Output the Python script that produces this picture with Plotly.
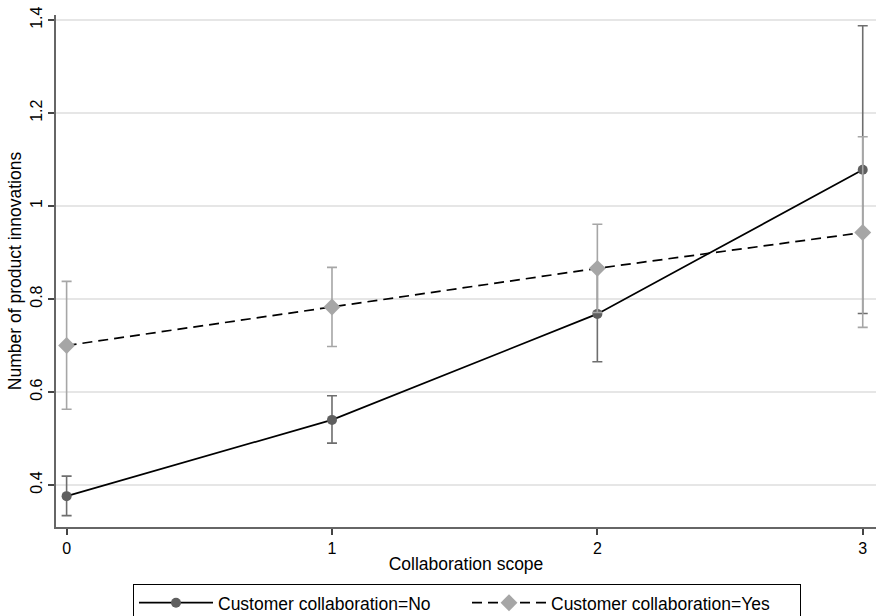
import plotly.graph_objects as go

scope = [0, 1, 2, 3]
no_mean = [0.376, 0.540, 0.768, 1.078]
no_lo = [0.334, 0.490, 0.665, 0.769]
no_hi = [0.419, 0.592, 0.871, 1.388]
yes_mean = [0.700, 0.783, 0.866, 0.943]
yes_lo = [0.563, 0.698, 0.771, 0.739]
yes_hi = [0.838, 0.868, 0.961, 1.149]
y_ticks = [0.4, 0.6, 0.8, 1.0, 1.2, 1.4]
y_tick_labels = ["0.4", "0.6", "0.8", "1", "1.2", "1.4"]
x_ticks = [0, 1, 2, 3]

FONT = "Liberation Sans, Arial, sans-serif"

fig = go.Figure()
fig.add_trace(go.Scatter(
    x=scope, y=no_mean, mode="lines+markers",
    name="Customer collaboration=No", cliponaxis=False,
    line=dict(color="black", width=1.7, dash="solid"),
    marker=dict(symbol="circle", size=10, color="#5f5f5f"),
    error_y=dict(type="data", symmetric=False,
                 array=[h - m for h, m in zip(no_hi, no_mean)],
                 arrayminus=[m - l for l, m in zip(no_lo, no_mean)],
                 color="#6e6e6e", thickness=1.6, width=5),
))
fig.add_trace(go.Scatter(
    x=scope, y=yes_mean, mode="lines+markers",
    name="Customer collaboration=Yes", cliponaxis=False,
    line=dict(color="black", width=1.7, dash="10px,6px"),
    marker=dict(symbol="diamond", size=13, color="#a6a6a6"),
    error_y=dict(type="data", symmetric=False,
                 array=[h - m for h, m in zip(yes_hi, yes_mean)],
                 arrayminus=[m - l for l, m in zip(yes_lo, yes_mean)],
                 color="#a6a6a6", thickness=1.6, width=5),
))

fig.update_layout(
    width=877, height=616,
    margin=dict(l=56, r=1, t=15, b=89, autoexpand=False),
    paper_bgcolor="white", plot_bgcolor="white",
    font=dict(family=FONT, size=16, color="black"),
    showlegend=True,
    legend=dict(orientation="h", x=0.0939, xanchor="left", y=-0.111, yanchor="top",
                bordercolor="black", borderwidth=1, bgcolor="white",
                font=dict(size=17.5), itemwidth=74,
                entrywidth=244, entrywidthmode="pixels",
                traceorder="normal"),
)
fig.update_xaxes(
    range=[-0.04, 3.05], tickvals=x_ticks, ticktext=[str(v) for v in x_ticks],
    showgrid=False, zeroline=False, showline=True, linecolor="#666666", linewidth=2,
    ticks="outside", ticklen=6, tickcolor="#444444", tickwidth=1.5,
    title=dict(text="Collaboration scope", standoff=2, font=dict(size=17.5)),
)
fig.update_yaxes(
    range=[0.3096, 1.411], tickvals=y_ticks, ticktext=y_tick_labels, tickangle=-90,
    showgrid=True, gridcolor="#e6e6e6", gridwidth=1.5, zeroline=False,
    showline=True, linecolor="#666666", linewidth=2,
    ticks="outside", ticklen=6, tickcolor="#444444", tickwidth=1.5,
    title=dict(text="Number of product innovations", standoff=1, font=dict(size=17.5)),
)

fig.write_html("out.html", config={"displayModeBar": False})

with open("out.html", "r", encoding="utf-8") as f:
    html = f.read()
html = html.replace("<head>", "<head><style>html,body{margin:0;padding:0;overflow:hidden;}</style>", 1)
with open("out.html", "w", encoding="utf-8") as f:
    f.write(html)
